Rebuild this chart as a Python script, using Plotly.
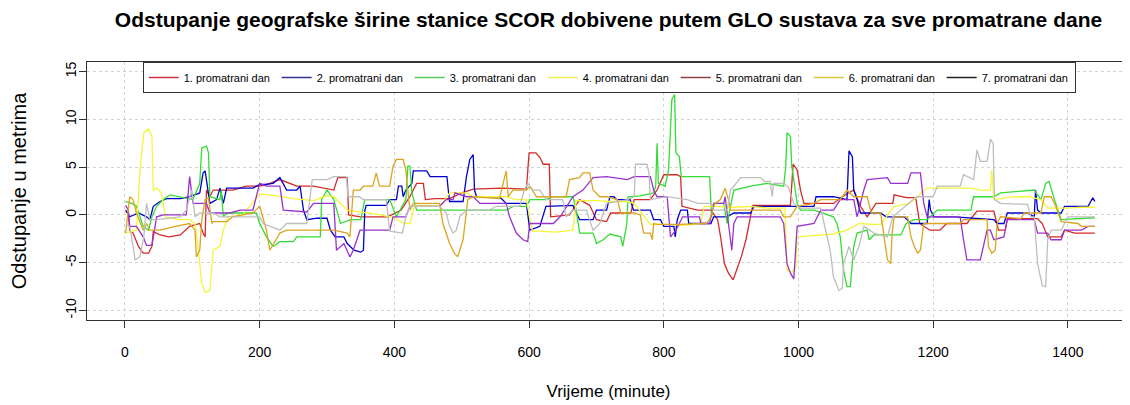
import plotly.graph_objects as go

# ---------------- data (minute, deviation in metres) ----------------
dan1 = [(1, 0.35), (5, 0.2), (7, -1.6), (12, -1.9), (20, -3.3), (27, -4.0), (35, -4.0), (40, -3.3), (42, -1.75),
        (52, -2.1), (65, -2.3), (82, -2.1), (96, -1.2), (111, -0.9), (116, -1.9), (119, -2.3), (121, 2.6), (126, 1.9),
        (131, 2.6), (160, 2.6), (180, 3.0), (200, 3.0), (215, 3.3), (230, 3.7), (255, 3.0), (280, 3.0), (310, 2.6),
        (316, 3.9), (330, 3.9), (332, 0.0), (350, -0.2), (390, -0.2), (410, 0.5), (423, 1.9), (433, 3.3), (443, 3.3),
        (446, 1.6), (460, 1.7), (482, 1.7), (500, 2.3), (517, 2.7), (560, 2.8), (596, 2.7), (600, 6.5), (610, 6.5),
        (616, 6.0), (621, 5.3), (630, 5.3), (632, -0.2), (660, 0.0), (675, 1.6), (690, 1.0), (700, -0.5), (715, -0.7),
        (721, 0.2), (751, 0.2), (756, 1.6), (780, 1.6), (790, 2.6), (800, 4.2), (820, 4.2), (825, 4.0), (827, 0.9),
        (850, 0.5), (870, 0.5), (880, -0.5), (885, -2.6), (890, -5.1), (896, -6.1), (903, -6.8), (908, -5.8),
        (915, -4.4), (922, -2.6), (927, -0.9), (932, 1.0), (960, 1.0), (988, 1.0), (992, 5.3), (998, 4.7), (1003, 2.6),
        (1008, 1.2), (1030, 1.2), (1052, 1.2), (1065, 1.9), (1082, 2.6), (1092, 0.9), (1102, -0.2), (1115, 1.2),
        (1140, 1.2), (1142, 2.1), (1160, 1.8), (1174, 1.8), (1180, -0.9), (1195, -1.6), (1210, -1.6), (1220, -0.9),
        (1250, -0.9), (1265, 0.4), (1290, 0.4), (1297, -1.6), (1307, -1.6), (1310, -0.4), (1355, -0.4), (1362, -0.9),
        (1370, -2.3), (1390, -2.3), (1395, -1.6), (1410, -1.9), (1440, -1.9)]

dan2 = [(1, 0.5), (7, -0.2), (20, 0.2), (32, -0.2), (37, -0.5), (42, 0.9), (52, 1.4), (62, 1.7), (82, 1.7), (96, 1.9),
        (111, 2.3), (114, 3.5), (116, 4.4), (119, 4.6), (121, 3.7), (126, 1.2), (136, 1.6), (141, 2.8), (146, 1.2),
        (151, 2.8), (170, 2.8), (190, 2.8), (200, 3.2), (210, 3.2), (220, 3.3), (230, 3.9), (240, 2.6), (255, 2.6),
        (260, 3.0), (265, 0.5), (270, -0.5), (285, -0.35), (300, -0.35), (305, -1.6), (312, -2.3), (325, -2.3),
        (330, -3.0), (340, -3.7), (350, -3.9), (354, -3.7), (356, 0.4), (358, 1.0), (388, 1.0), (393, 1.6), (403, 1.6),
        (406, 3.0), (411, 3.0), (413, 1.9), (417, 2.6), (426, 3.3), (428, 4.6), (448, 4.6), (453, 4.0), (478, 4.0),
        (480, 2.6), (482, 1.4), (502, 1.4), (507, 4.0), (512, 5.8), (517, 6.3), (519, 2.6), (522, 1.9), (556, 1.9),
        (566, 1.2), (596, 1.2), (598, -0.2), (601, -1.6), (616, -1.2), (625, 0.9), (665, 1.0), (670, 0.2), (675, -0.5),
        (695, -0.5), (700, 0.5), (715, 0.5), (720, 1.9), (726, 1.9), (730, 1.6), (750, 1.6), (755, 0.5), (780, 0.5),
        (785, -0.5), (795, -0.5), (800, -1.2), (815, -1.2), (817, -2.3), (820, -0.5), (825, 0.5), (835, 0.5),
        (837, -0.9), (870, -0.9), (874, -0.2), (894, -0.2), (904, 0.2), (929, 0.2), (934, 0.9), (988, 0.9), (1003, 0.9),
        (1023, 0.9), (1026, 1.9), (1052, 1.9), (1072, 1.6), (1075, 6.7), (1080, 6.1), (1082, 2.6), (1087, 1.6),
        (1092, 0.2), (1122, 0.2), (1130, -0.2), (1157, -0.2), (1167, -0.9), (1191, -0.9), (1194, 1.6), (1196, 0.5),
        (1201, -0.2), (1231, -0.2), (1270, -0.35), (1290, -0.5), (1295, -0.9), (1305, -0.9), (1310, 0.2), (1340, 0.2),
        (1350, -0.2), (1352, 2.6), (1355, 0.5), (1360, 0.2), (1390, 0.2), (1395, 0.9), (1430, 0.9), (1437, 1.8),
        (1440, 1.4)]

dan3 = [(1, 1.4), (10, 1.2), (17, 0.9), (22, -0.2), (27, -1.2), (35, -1.6), (40, -0.2), (47, 0.9), (57, 1.6),
        (67, 2.1), (82, 1.9), (101, 1.6), (111, 3.3), (114, 7.0), (121, 7.2), (124, 6.5), (126, 1.9), (141, 1.6),
        (143, 2.6), (146, -0.2), (151, 0.2), (171, 0.2), (195, 0.2), (200, -0.9), (210, -2.3), (220, -3.3), (230, -2.8),
        (250, -2.8), (255, -2.3), (290, -2.3), (292, 1.6), (300, 2.6), (310, 1.6), (320, -0.9), (335, -0.5),
        (350, -0.5), (356, 1.6), (393, 1.6), (403, -0.2), (417, 1.6), (420, 5.1), (423, 5.1), (426, 2.3), (433, 0.5),
        (478, 0.5), (507, 0.5), (566, 0.5), (577, 0.9), (596, 0.9), (601, 1.6), (625, 1.6), (635, 1.9), (665, 1.9),
        (670, 0.5), (675, -1.9), (695, -1.9), (700, -3.0), (710, -2.6), (720, -2.0), (736, -2.3), (739, -3.3),
        (745, -1.0), (747, 1.9), (765, 2.0), (785, 2.3), (788, 3.0), (790, 7.5), (792, 3.3), (802, 3.0), (807, 4.7),
        (812, 12.1), (816, 12.6), (818, 6.5), (823, 6.1), (826, 4.0), (850, 4.0), (868, 4.0), (871, -0.2), (874, 1.2),
        (889, 1.2), (894, -0.9), (899, 0.9), (904, 2.6), (929, 3.0), (953, 3.3), (978, 3.0), (981, 5.0), (983, 8.6),
        (988, 8.2), (990, 5.1), (995, 2.6), (998, 1.2), (1003, 0.5), (1023, 0.5), (1052, -0.2), (1057, -0.9),
        (1062, -2.3), (1067, -5.8), (1072, -7.5), (1077, -7.5), (1082, -3.3), (1087, -1.9), (1102, -1.6), (1105, -2.6),
        (1112, -2.1), (1152, -2.1), (1160, -0.9), (1172, -0.5), (1191, -0.5), (1206, 0.5), (1256, 0.5), (1260, 1.9),
        (1290, 1.9), (1300, 2.3), (1350, 2.6), (1360, 1.6), (1367, 3.3), (1372, 3.5), (1380, 1.6), (1390, -0.5),
        (1440, -0.3)]

dan4 = [(1, -1.9), (17, -1.6), (22, 4.4), (28, 8.6), (35, 9.0), (40, 8.2), (42, 2.6), (47, 2.8), (54, 2.3), (60, -0.2),
        (80, -0.5), (96, -0.5), (104, -0.9), (109, -3.7), (114, -7.2), (119, -8.1), (126, -7.9), (129, -5.1),
        (131, -3.7), (141, -3.3), (146, -1.6), (153, -0.2), (175, 0.0), (200, 2.2), (225, 2.0), (250, 1.7), (280, 1.5),
        (300, 2.0), (310, 1.9), (330, 0.5), (350, 0.3), (380, 0.0), (400, -0.3), (415, -0.9), (423, -0.9), (430, 1.0),
        (450, 1.0), (468, 0.9), (482, 2.3), (507, 2.3), (517, 1.9), (540, 1.9), (566, 1.9), (580, 1.6), (596, 1.6),
        (605, -1.7), (615, -1.7), (640, -1.8), (665, -1.6), (670, 1.5), (700, 1.5), (720, 1.4), (746, 1.4), (756, 1.2),
        (780, -1.0), (800, -1.0), (830, -1.1), (855, -0.9), (860, 0.9), (880, 0.9), (905, 0.8), (930, 0.9), (955, 0.7),
        (980, 0.7), (983, -5.8), (990, -6.0), (996, -5.5), (998, -2.3), (1030, -2.1), (1052, -2.0), (1072, -1.6),
        (1090, -0.9), (1110, -1.0), (1122, -1.0), (1142, 0.9), (1165, 1.2), (1191, 2.8), (1220, 2.8), (1256, 2.8),
        (1270, 2.6), (1285, 2.6), (1287, 4.7), (1290, 1.6), (1320, 1.9), (1342, 1.9), (1360, 1.6), (1370, 0.7),
        (1400, 0.7), (1420, 0.8), (1440, 0.8)]

dan5 = [(1, 1.0), (5, 0.5), (7, -1.2), (17, -1.2), (27, -2.3), (32, -3.2), (40, -3.2), (42, -2.3), (47, -0.2),
        (57, 0.0), (91, 0.0), (96, 4.0), (101, 1.2), (106, 1.2), (121, 1.2), (126, 0.2), (156, 0.2), (171, 0.5),
        (190, 0.5), (200, 3.3), (210, 3.0), (230, 3.0), (235, 0.5), (270, 0.3), (280, 1.2), (310, 1.2), (314, -3.7),
        (325, -3.0), (334, -4.4), (339, -3.7), (349, -1.6), (393, -1.6), (398, -0.2), (417, -0.2), (423, 0.9),
        (467, 0.9), (477, 1.6), (487, 1.6), (490, 2.3), (507, 1.9), (517, 1.9), (527, 1.2), (566, 1.2), (571, -0.2),
        (581, -1.9), (591, -2.6), (598, -2.8), (601, -0.9), (636, -0.9), (646, -0.2), (665, 1.9), (680, 2.6),
        (695, 3.9), (715, 4.0), (746, 3.7), (756, 4.0), (780, 4.0), (785, 2.6), (790, 1.9), (805, 1.9), (807, -0.2),
        (810, -2.3), (818, -1.6), (828, -0.2), (853, -0.2), (855, -0.9), (868, -0.9), (874, 1.2), (889, 1.2),
        (891, 1.9), (896, -0.9), (901, -3.7), (904, -0.9), (909, -0.2), (973, -0.2), (978, -0.9), (983, -5.1),
        (988, -6.1), (993, -6.7), (998, -1.2), (1023, -0.9), (1033, 0.5), (1052, 0.5), (1062, 1.6), (1082, 1.6),
        (1087, -0.2), (1097, 2.6), (1102, 3.7), (1132, 3.9), (1137, 3.3), (1162, 3.3), (1167, 4.4), (1181, 4.4),
        (1184, 2.6), (1186, 1.2), (1191, -0.2), (1240, -0.2), (1245, -2.6), (1250, -4.7), (1270, -4.7), (1275, -3.0),
        (1280, -1.6), (1285, -1.6), (1290, -2.6), (1305, -2.3), (1310, -0.5), (1350, -0.5), (1355, -1.9), (1370, -1.9),
        (1375, -2.6), (1390, -2.6), (1395, -1.6), (1420, -1.6), (1430, -1.2), (1440, -1.2)]

dan6 = [(1, -1.9), (5, 0.5), (7, 1.9), (12, 1.6), (17, 0.2), (27, -1.6), (32, -0.9), (37, -1.6), (47, -1.6),
        (52, -1.6), (75, -1.2), (96, -0.9), (104, -1.6), (106, -4.4), (111, -3.7), (114, -0.5), (119, 1.6), (124, 1.8),
        (129, -0.9), (131, -0.7), (151, -0.7), (160, -0.2), (190, 0.2), (200, 0.9), (210, -1.6), (215, -3.7),
        (230, -1.9), (240, -1.6), (280, -1.6), (310, -1.6), (330, -1.9), (334, -2.3), (339, 2.6), (349, 2.6),
        (354, 3.0), (368, 3.0), (373, 4.4), (378, 3.0), (393, 3.0), (398, 5.1), (403, 5.8), (413, 5.8), (417, 4.7),
        (423, 0.5), (428, 1.2), (467, 1.2), (472, -0.9), (482, -3.0), (489, -4.0), (494, -4.4), (502, -2.6),
        (509, 1.6), (517, 1.9), (556, 1.7), (566, 4.6), (569, 1.9), (576, 2.6), (596, 2.6), (601, 3.0), (611, 1.9),
        (655, 1.9), (660, 3.7), (675, 3.9), (680, 4.4), (690, 4.4), (695, 2.6), (705, 1.9), (715, 1.9), (731, 1.6),
        (736, 0.2), (756, 0.2), (765, 0.0), (770, -1.9), (780, -1.9), (783, -2.6), (785, -0.9), (790, -1.0),
        (820, -1.0), (863, -0.9), (868, -0.5), (876, 1.2), (884, 1.6), (891, 2.8), (896, 1.6), (899, 0.5), (973, 0.5),
        (978, -0.2), (988, -0.2), (998, 0.9), (1023, 1.2), (1033, 1.6), (1062, 1.6), (1072, 2.6), (1082, 1.9),
        (1102, 1.9), (1108, 0.2), (1122, 0.2), (1127, -2.3), (1132, -4.7), (1137, -5.1), (1139, -1.9), (1142, -0.2),
        (1162, -0.2), (1167, -2.3), (1172, -3.3), (1177, -4.0), (1181, -3.7), (1186, -0.9), (1240, -0.9), (1245, -0.5),
        (1280, -0.5), (1282, -3.3), (1287, -4.0), (1292, -3.7), (1295, -0.9), (1300, -0.2), (1330, -0.4), (1335, 0.2),
        (1360, 0.2), (1365, 1.9), (1375, 1.9), (1382, 0.9), (1390, -0.7), (1415, -0.9), (1420, -1.2), (1440, -1.2)]

dan7 = [(1, -1.0), (7, -1.2), (12, -3.3), (15, -4.7), (22, -4.4), (25, -3.3), (28, -2.3), (32, 1.2), (37, -0.5),
        (47, -0.5), (82, -0.2), (91, 0.5), (99, 2.6), (104, -0.2), (111, 0.2), (131, 0.2), (141, -0.2), (200, -0.2),
        (205, -0.9), (230, -1.6), (240, -0.9), (270, -0.9), (278, 3.7), (300, 3.7), (310, 4.0), (329, 4.0), (331, 1.9),
        (348, 1.9), (354, 1.6), (388, 1.6), (393, -1.7), (412, -1.9), (417, -0.2), (423, 0.9), (467, 0.9), (477, 0.2),
        (482, -1.2), (487, -1.9), (492, -1.6), (497, -0.2), (507, 0.5), (541, 0.5), (551, 0.9), (586, 0.9), (593, 2.6),
        (598, 3.3), (606, 2.6), (616, 2.6), (625, 1.6), (650, 1.6), (655, -0.2), (665, 0.5), (685, 0.5), (695, -1.6),
        (705, -0.9), (715, 1.2), (746, 1.6), (756, 1.9), (758, 5.3), (775, 5.3), (778, 4.4), (780, 1.6), (805, 1.9),
        (835, 1.6), (850, 1.2), (870, 1.2), (874, 0.5), (894, 0.5), (899, 2.6), (904, 3.0), (914, 3.9), (944, 3.9),
        (949, 3.5), (958, 3.5), (961, 1.9), (963, 3.3), (978, 3.3), (985, 2.9), (993, 1.2), (1003, 0.7), (1033, 0.7),
        (1038, -0.9), (1047, -3.7), (1052, -6.5), (1060, -7.9), (1065, -7.7), (1067, -5.1), (1075, -3.3), (1082, -4.7),
        (1090, -3.3), (1097, -1.2), (1112, -1.9), (1132, -2.3), (1140, -0.2), (1160, 1.0), (1175, 1.9), (1200, 1.9),
        (1206, 3.0), (1221, 3.0), (1240, 3.0), (1245, 4.2), (1260, 3.7), (1265, 6.8), (1270, 5.6), (1280, 5.6),
        (1285, 7.9), (1289, 7.5), (1291, 1.6), (1300, 1.2), (1340, 1.1), (1345, -0.2), (1350, -0.2), (1355, -5.1),
        (1362, -7.4), (1367, -7.5), (1370, -2.6), (1375, -1.6), (1390, -1.6), (1400, -0.2), (1440, -0.2)]

series = [dan1, dan2, dan3, dan4, dan5, dan6, dan7]
legend_names = ["1. promatrani dan", "2. promatrani dan", "3. promatrani dan", "4. promatrani dan",
                "5. promatrani dan", "6. promatrani dan", "7. promatrani dan"]
line_colors = ["#D42A2A", "#0000CD", "#33DD33", "#F5F53A", "#9932CC", "#DAA520", "#BEBEBE"]
legend_colors = ["#CC3344", "#333388", "#55CC55", "#EEEE55", "#8B4040", "#D4C840", "#222222"]

x_ticks = [0, 200, 400, 600, 800, 1000, 1200, 1400]
y_ticks = [-10, -5, 0, 5, 10, 15]

fig = go.Figure()
for pts, col in zip(series, line_colors):
    fig.add_trace(go.Scatter(x=[p[0] for p in pts], y=[p[1] for p in pts], mode="lines",
                             line=dict(color=col, width=1.3), showlegend=False, hoverinfo="skip"))
for name, col in zip(legend_names, legend_colors):
    fig.add_trace(go.Scatter(x=[None], y=[None], mode="lines", name=name,
                             line=dict(color=col, width=1.3), showlegend=True))

W, H = 1122, 397  # page body adds an 8px offset
fig.update_layout(
    width=W, height=H,
    margin=dict(l=79, r=0, t=54, b=85),
    plot_bgcolor="white", paper_bgcolor="white",
    font=dict(family="Liberation Sans, Arial, sans-serif", color="black", size=14),
    title=dict(text="<b>Odstupanje geografske širine stanice SCOR dobivene putem GLO sustava za sve promatrane dane</b>",
               x=0.5, xref="paper", y=1 - 12 / H, yref="container", yanchor="middle",
               font=dict(size=21, color="black")),
    legend=dict(orientation="h", x=0.0534, xanchor="left", y=1, yanchor="top",
                bordercolor="#333333", borderwidth=1, bgcolor="white",
                font=dict(size=11), entrywidth=88, entrywidthmode="pixels",
                tracegroupgap=0, itemwidth=30),
    xaxis=dict(range=[-56.4, 1492.2], tickvals=x_ticks, ticktext=[str(v) for v in x_ticks],
               ticks="outside", ticklen=7, tickcolor="#333333", ticklabelstandoff=12,
               showline=True, linecolor="#333333", linewidth=1, mirror=True, automargin=False,
               showgrid=True, gridcolor="#D3D3D3", griddash="dot", gridwidth=1, zeroline=False,
               title=dict(text="Vrijeme (minute)", font=dict(size=17), standoff=26)),
    yaxis=dict(range=[-11, 16], tickvals=y_ticks, ticktext=[str(v) for v in y_ticks], tickangle=-90,
               ticks="outside", ticklen=7, tickcolor="#333333", ticklabelstandoff=-3,
               showline=True, linecolor="#333333", linewidth=1, mirror=False, automargin=False,
               showgrid=True, gridcolor="#D3D3D3", griddash="dot", gridwidth=1, zeroline=False,
               title=dict(text="Odstupanje u metrima", font=dict(size=20), standoff=36)),
)

fig.write_html("out.html")
